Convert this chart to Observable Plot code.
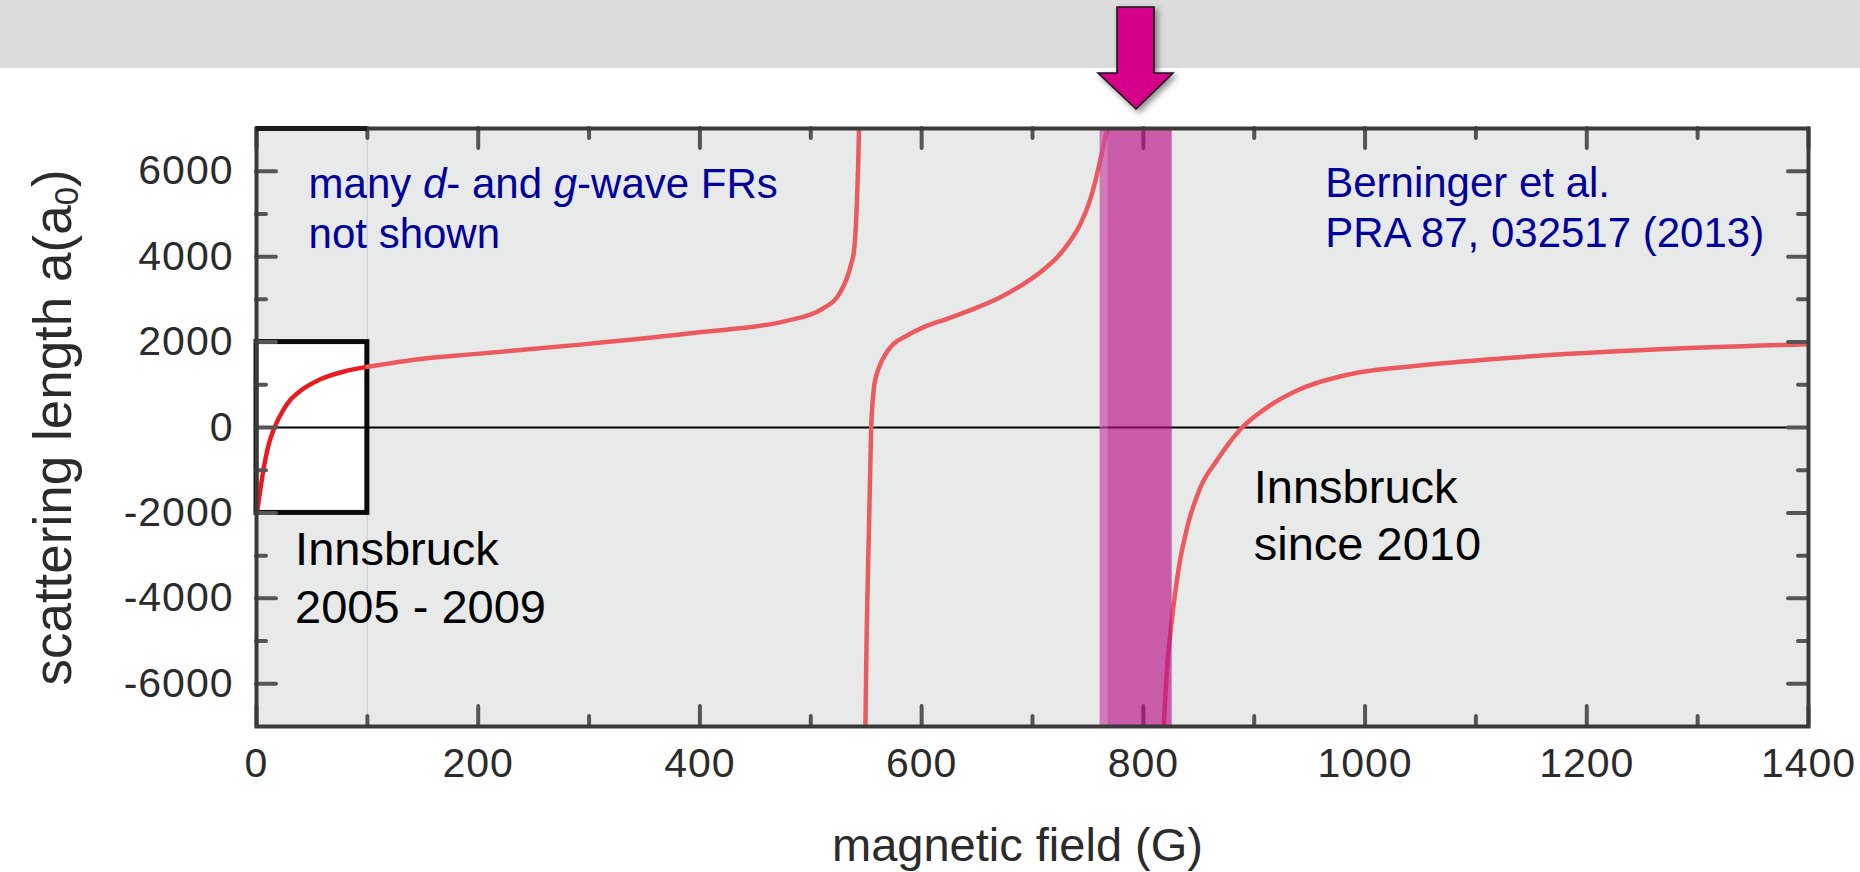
<!DOCTYPE html>
<html>
<head>
<meta charset="utf-8">
<script src="https://cdn.jsdelivr.net/npm/d3@7"></script>
<script src="https://cdn.jsdelivr.net/npm/@observablehq/plot@0.6"></script>
<style>
  html, body { margin: 0; padding: 0; background: #ffffff; width: 1860px; height: 872px; overflow: hidden; }
  #wrap { position: relative; width: 1860px; height: 872px; }
  #banner { position: absolute; left: 0; top: 0; width: 1860px; height: 68px; background: #dcdcdc; }
  #chart { position: absolute; left: 0; top: 0; }
  #arrow { position: absolute; left: 0; top: 0; pointer-events: none; }
  svg text { font-family: "Liberation Sans", Arial, sans-serif; }
</style>
</head>
<body>
<div id="wrap">
  <div id="banner"></div>
  <div id="chart"></div>
  <svg id="arrow" width="1860" height="130">
    <path d="M1117,7 H1154 V73 H1173 L1136,109 L1098,73 H1117 Z"
          fill="#d4008a" stroke="#161616" stroke-width="1.6" stroke-linejoin="miter"
          style="filter: drop-shadow(3px 3px 3px rgba(0,0,0,0.45));"/>
  </svg>
</div>
<script>
// ---- tick values ----
const xMajorTicks = [0, 200, 400, 600, 800, 1000, 1200, 1400];
const xMinorTicks = [100, 300, 500, 700, 900, 1100, 1300];
const yMajorTicks = [-6000, -4000, -2000, 0, 2000, 4000, 6000];
const yMinorTicks = [-5000, -3000, -1000, 1000, 3000, 5000];

// ---- scattering length curve: [B (G), a (a0)] ----
const branch1 = [
  [1, -1900], [6.6, -940], [11.1, -390], [15.6, -40], [24.6, 430], [31, 660], [39.7, 860],
  [57.7, 1130], [81.8, 1330], [100, 1420], [150, 1610], [196, 1718], [297, 1952],
  [397, 2223], [478, 2497], [510, 2771], [526.5, 3160], [532.8, 3510], [536.4, 3824],
  [538.8, 4100], [539.7, 4330], [540.4, 4600], [541.8, 5400], [542.8, 6200], [543.5, 7000]
];
const branch2 = [
  [549.3, -7000], [550.3, -5000], [551.3, -3700], [552.6, -2200], [553.6, -1000],
  [554.5, 0], [555.5, 500], [557, 943], [559.5, 1250], [562.9, 1492], [567, 1700],
  [571.9, 1880], [587, 2154], [601.9, 2349], [623, 2545], [647, 2779], [671.1, 3051],
  [692.1, 3364], [710.2, 3700], [722.3, 3987], [734.3, 4378], [743.3, 4769],
  [750.8, 5237], [755.3, 5626], [760, 6130], [767.4, 7000]
];
const branch3 = [
  [818.4, -7000], [821.5, -5600], [826, -4450], [832, -3280], [839.5, -2340],
  [851.5, -1400], [866.6, -760], [887.6, -40], [911.7, 470], [941.7, 900],
  [986.8, 1250], [1047, 1445], [1120, 1610], [1265, 1830], [1400, 1950]
];

// ---- highlighted regions ----
const boxField = [0, 100];        // Innsbruck 2005-2009 window (G)
const boxLength = [-2000, 2000];  // (a0)
const bandField = [761, 826];     // magenta band (G)

// ---- texts ----
const noteFRs = "many d- and g-wave FRs\nnot shown";
const noteRef = "Berninger et al.\nPRA 87, 032517 (2013)";
const noteOld = "Innsbruck\n2005 - 2009";
const noteNew = "Innsbruck\nsince 2010";
const xTitle = "magnetic field (G)";
const yTitle = "scattering length a(a0)";

const box = [{b1: boxField[0], b2: boxField[1], a1: boxLength[0], a2: boxLength[1]}];
const band = [{b1: bandField[0], b2: bandField[1]}];
const fmt = d => String(d);
const inBox = d => d[0] <= boxField[1];
const outBox = d => d[0] >= boxField[1];
const curveStyle = {x: d => d[0], y: d => d[1], strokeWidth: 4.5, curve: "monotone-x", clip: true};

const svg = Plot.plot({
  width: 1860,
  height: 872,
  marginLeft: 256,
  marginRight: 52,
  marginTop: 128,
  marginBottom: 146,
  x: {domain: [0, 1400]},
  y: {domain: [-7000, 7000]},
  style: {background: "transparent", fontFamily: "Liberation Sans, Arial, sans-serif", color: "#2b2b2b", overflow: "visible"},
  marks: [
    Plot.frame({fill: "#e8eae9"}),
    Plot.ruleX([boxField[1]], {stroke: "#d2d4d3", strokeWidth: 1.5}),
    Plot.rect(box, {x1: "b1", x2: "b2", y1: "a1", y2: "a2", fill: "white", stroke: "#0a0a0a", strokeWidth: 5}),
    Plot.ruleY([0], {stroke: "#000", strokeWidth: 2}),
    // curve
    Plot.line(branch1.filter(inBox), {...curveStyle, stroke: "#ea1a22"}),
    Plot.line(branch1.filter(outBox), {...curveStyle, stroke: "#eb5a5f"}),
    Plot.line(branch2, {...curveStyle, stroke: "#eb5a5f"}),
    Plot.line(branch3, {...curveStyle, stroke: "#eb5a5f"}),
    // inward ticks
    Plot.tickX(xMajorTicks, {insetTop: 578, stroke: "#555", strokeWidth: 4, strokeLinecap: "round"}),
    Plot.tickX(xMinorTicks, {insetTop: 588, stroke: "#555", strokeWidth: 4, strokeLinecap: "round"}),
    Plot.tickX(xMajorTicks, {insetBottom: 578, stroke: "#555", strokeWidth: 4, strokeLinecap: "round"}),
    Plot.tickX(xMinorTicks, {insetBottom: 588, stroke: "#555", strokeWidth: 4, strokeLinecap: "round"}),
    Plot.tickY(yMajorTicks, {insetRight: 1532, stroke: "#555", strokeWidth: 4, strokeLinecap: "round"}),
    Plot.tickY(yMinorTicks, {insetRight: 1542, stroke: "#555", strokeWidth: 4, strokeLinecap: "round"}),
    Plot.tickY(yMajorTicks, {insetLeft: 1532, stroke: "#555", strokeWidth: 4, strokeLinecap: "round"}),
    Plot.tickY(yMinorTicks, {insetLeft: 1542, stroke: "#555", strokeWidth: 4, strokeLinecap: "round"}),
    // magenta band
    Plot.rect(band, {x1: "b1", x2: "b2", y1: -7000, y2: 7000, fill: "#b71085", fillOpacity: 0.65, ariaLabel: "band"}),
    Plot.rect(band, {x1: "b1", x2: "b2", y1: -7000, y2: 7000, insetRight: 64, fill: "#ffffff", fillOpacity: 0.18}),
    // frame
    Plot.frame({stroke: "#3a3a3a", strokeWidth: 4, ariaLabel: "plotframe"}),
    Plot.ruleY([7000], {x1: boxField[0], x2: boxField[1], stroke: "#1a1a1a", strokeWidth: 5}),
    // axes
    Plot.axisX(xMajorTicks, {tickSize: 0, tickPadding: 21, fontSize: 41, tickFormat: fmt, label: null}),
    Plot.axisY(yMajorTicks, {tickSize: 0, tickPadding: 23, fontSize: 41, tickFormat: fmt, label: null}),
    // annotations
    Plot.text([noteFRs], {x: 47, y: 4191, text: d => d, textAnchor: "start", lineAnchor: "bottom", lineHeight: 1.2, fontSize: 42, fill: "#00009c"}),
    Plot.text([noteRef], {x: 964, y: 4221, text: d => d, textAnchor: "start", lineAnchor: "bottom", lineHeight: 1.2, fontSize: 42, fill: "#00009c"}),
    Plot.text([noteOld], {x: 34.8, y: -4581, text: d => d, textAnchor: "start", lineAnchor: "bottom", lineHeight: 1.23, fontSize: 47, fill: "#000"}),
    Plot.text([noteNew], {x: 899.6, y: -3097, text: d => d, textAnchor: "start", lineAnchor: "bottom", lineHeight: 1.2, fontSize: 47, fill: "#000"}),
    // axis titles
    Plot.text([xTitle], {frameAnchor: "bottom", text: d => d, textAnchor: "middle", lineAnchor: "bottom", dx: -15, dy: 134, fontSize: 47, fill: "#2b2b2b"}),
    Plot.text([yTitle], {frameAnchor: "left", text: d => d, rotate: -90, textAnchor: "middle", lineAnchor: "bottom", dx: -186, fontSize: 53, fill: "#2b2b2b"})
  ]
});

document.getElementById("chart").appendChild(svg);

const S = d3.select(svg);
S.selectAll('g[aria-label="band"]').style("filter", "drop-shadow(5px 2px 4px rgba(0,0,0,0.3))");
S.selectAll('g[aria-label="plotframe"]').style("filter", "drop-shadow(2px 3px 2px rgba(0,0,0,0.35))");
S.selectAll('g[aria-label="x-axis tick label"] text, g[aria-label="y-axis tick label"] text').style("letter-spacing", "1px");

// italic d and g; subscript 0
svg.querySelectorAll("text, tspan").forEach(el => {
  if (el.childElementCount === 0 && el.textContent === "many d- and g-wave FRs") {
    el.textContent = "";
    const parts = [["many ", false], ["d", true], ["- and ", false], ["g", true], ["-wave FRs", false]];
    for (const [t, it] of parts) {
      const ts = document.createElementNS("http://www.w3.org/2000/svg", "tspan");
      if (it) ts.setAttribute("font-style", "italic");
      ts.textContent = t;
      el.appendChild(ts);
    }
  }
  if (el.childElementCount === 0 && el.textContent === yTitle) {
    el.textContent = "";
    const a = document.createElementNS("http://www.w3.org/2000/svg", "tspan");
    a.textContent = "scattering length a(a";
    const sub = document.createElementNS("http://www.w3.org/2000/svg", "tspan");
    sub.textContent = "0";
    sub.setAttribute("font-size", "0.62em");
    sub.setAttribute("dy", "0.22em");
    const c = document.createElementNS("http://www.w3.org/2000/svg", "tspan");
    c.textContent = ")";
    c.setAttribute("dy", "-0.14em");
    el.appendChild(a); el.appendChild(sub); el.appendChild(c);
  }
});
</script>
</body>
</html>
